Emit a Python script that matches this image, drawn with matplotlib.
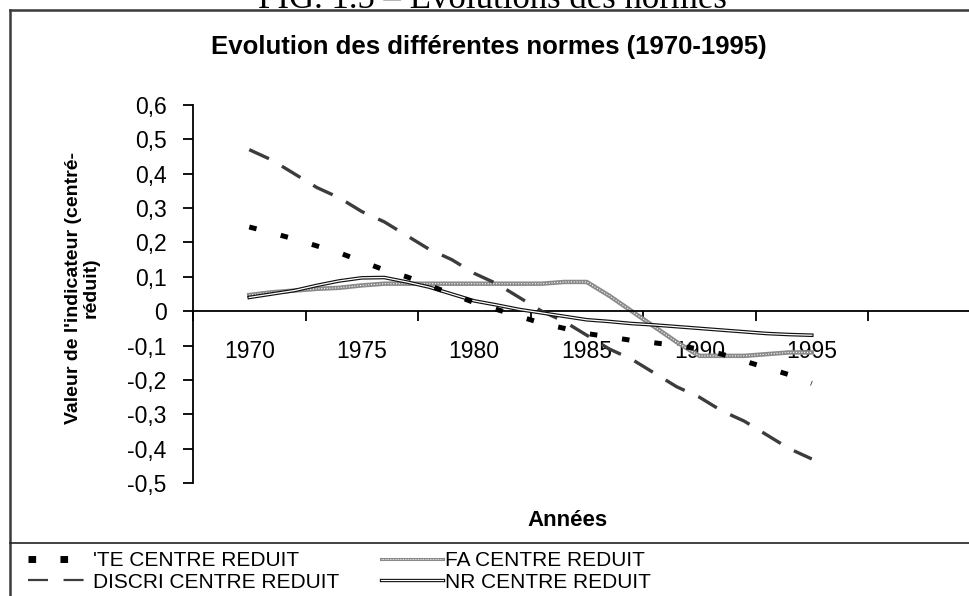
import matplotlib
matplotlib.use("Agg")
import matplotlib.pyplot as plt
from matplotlib.lines import Line2D
from matplotlib.legend_handler import HandlerTuple

years = [1970, 1971, 1972, 1973, 1974, 1975, 1976, 1977, 1978, 1979, 1980, 1981, 1982,
         1983, 1984, 1985, 1986, 1987, 1988, 1989, 1990, 1991, 1992, 1993, 1994, 1995]

te = [0.245, 0.228, 0.21, 0.19, 0.17, 0.145, 0.12, 0.10, 0.075, 0.05, 0.025, 0.005, -0.015,
      -0.035, -0.05, -0.065, -0.075, -0.085, -0.092, -0.10, -0.11, -0.125, -0.145, -0.165,
      -0.185, -0.21]
discri = [0.47, 0.44, 0.40, 0.36, 0.33, 0.29, 0.26, 0.22, 0.18, 0.15, 0.11, 0.08, 0.04,
          0.00, -0.03, -0.07, -0.11, -0.14, -0.18, -0.22, -0.25, -0.29, -0.32, -0.36,
          -0.40, -0.43]
fa = [0.047, 0.055, 0.06, 0.065, 0.068, 0.075, 0.08, 0.08, 0.08, 0.08, 0.08, 0.08, 0.08,
      0.08, 0.085, 0.085, 0.045, 0.0, -0.045, -0.09, -0.13, -0.13, -0.13, -0.125, -0.12,
      -0.12]
nr = [0.04, 0.05, 0.06, 0.075, 0.088, 0.097, 0.098, 0.085, 0.07, 0.05, 0.03, 0.018, 0.005,
      -0.005, -0.015, -0.025, -0.03, -0.036, -0.04, -0.045, -0.05, -0.055, -0.06, -0.065,
      -0.068, -0.07]

year_labels = ["1970", "1975", "1980", "1985", "1990", "1995"]
y_ticks = [0.6, 0.5, 0.4, 0.3, 0.2, 0.1, 0, -0.1, -0.2, -0.3, -0.4, -0.5]
labels = ["'TE CENTRE REDUIT", "DISCRI CENTRE REDUIT", "FA CENTRE REDUIT", "NR CENTRE REDUIT"]

plt.rcParams['font.family'] = ['Liberation Sans', 'DejaVu Sans']

W, H = 969, 596
fig = plt.figure(figsize=(W / 100, H / 100), dpi=100)

# outer frame lines
fig.add_artist(Line2D([10 / W, 1.0], [1 - 10 / H, 1 - 10 / H], transform=fig.transFigure,
                      color='#3a3a3a', lw=1.8))
fig.add_artist(Line2D([10 / W, 10 / W], [0, 1 - 10 / H], transform=fig.transFigure,
                      color='#3a3a3a', lw=1.8))
fig.add_artist(Line2D([10 / W, 1.0], [1 - 543 / H, 1 - 543 / H], transform=fig.transFigure,
                      color='#222222', lw=1.2))

# cut-off caption at very top (as in the reference)
fig.text(492 / W, 1 - 7.5 / H, "FIG. 1.5 – Évolutions des normes",
         family=['Liberation Serif', 'DejaVu Serif'],
         fontsize=25, ha='center', va='baseline', color='black')

ax = fig.add_axes([193 / W, 1 - 483 / H, (W - 193) / W, (483 - 105) / H])
ax.set_xlim(1967.5, 1967.5 + (W - 193) / 22.5)
ax.set_ylim(-0.5, 0.6)

for s in ['top', 'right']:
    ax.spines[s].set_visible(False)
ax.spines['bottom'].set_position(('data', 0))
ax.spines['left'].set_linewidth(1.3)
ax.spines['bottom'].set_linewidth(1.3)

major = [1967.5 + 5 * k for k in range(7)]
ax.set_xticks(major)
ax.set_xticklabels([])
ax.set_xticks([int(v) for v in year_labels], minor=True)
ax.set_xticklabels(year_labels, minor=True)
ax.tick_params(axis='x', which='major', direction='out', length=7, width=1.3)
ax.tick_params(axis='x', which='minor', length=0, pad=21, labelsize=16.5)

ax.set_yticks(y_ticks)
ax.set_yticklabels([("%.1f" % v).replace('.', ',') if v != 0 else "0" for v in y_ticks])
ax.tick_params(axis='y', direction='out', length=7, width=1.3, pad=12, labelsize=16.5)

# series
ax.plot(years, discri, color='#3c3c3c', lw=2.4, dashes=(6.5, 4.5), solid_capstyle='butt',
        dash_capstyle='butt', zorder=3)
ax.plot(years, te, color='black', lw=3.6, dashes=(1.5, 5.0), dash_capstyle='butt', zorder=4)
ax.plot(years, fa, color='#8a8a8a', lw=3.2, zorder=2)
ax.plot(years, fa, color='white', lw=0.8, dashes=(1, 1.5), zorder=2.1)
ax.plot(years, nr, color='#111111', lw=2.6, zorder=3)
ax.plot(years, nr, color='white', lw=0.9, zorder=3.1)

# titles
fig.text(489 / W, 1 - 47 / H, "Evolution des différentes normes (1970-1995)", fontsize=18.5,
         fontweight='bold', ha='center', va='center')
fig.text(82 / W, 1 - 288 / H, "Valeur de l'indicateur (centré-\nréduit)", fontsize=14,
         fontweight='bold', ha='center', va='center', rotation=90, linespacing=1.05)
fig.text(567 / W, 1 - 520 / H, "Années", fontsize=16, fontweight='bold', ha='center', va='center')

# legend proxies
h_te = Line2D([], [], color='black', lw=5, dashes=(1.1, 3.5), dash_capstyle='butt')
h_di = Line2D([], [], color='#3c3c3c', lw=1.6, dashes=(9, 7))
h_fa = (Line2D([], [], color='#8a8a8a', lw=2.2), Line2D([], [], color='white', lw=0.6, dashes=(1, 1)))
h_nr = (Line2D([], [], color='#111111', lw=2.4), Line2D([], [], color='white', lw=0.8))
leg = fig.legend([h_te, h_di, h_fa, h_nr], labels, loc='upper left',
                 bbox_to_anchor=(28 / W, 1 - 551 / H), bbox_transform=fig.transFigure,
                 ncol=2, frameon=False, fontsize=15, handlelength=3.0, handletextpad=0.1,
                 columnspacing=2.0, labelspacing=0.12, borderpad=0, borderaxespad=0,
                 handler_map={tuple: HandlerTuple(ndivide=1, pad=0)})

fig.savefig("out.png", dpi=100)
